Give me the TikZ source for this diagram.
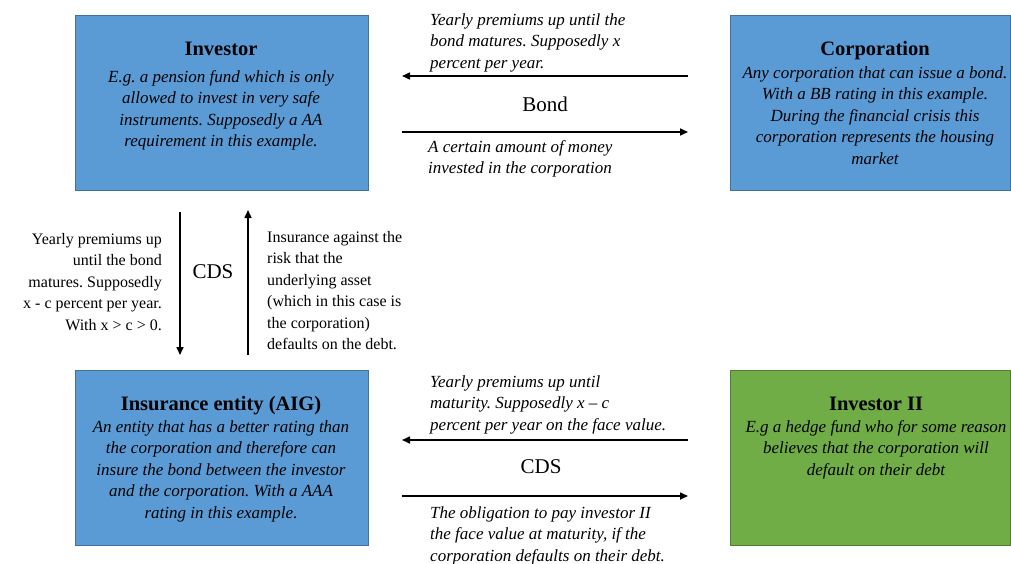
\documentclass[tikz,border=0pt]{standalone}
\usepackage{fontspec}
\setmainfont{Liberation Serif}
\usetikzlibrary{arrows.meta,calc}
\definecolor{boxblue}{HTML}{5B9BD5}
\definecolor{boxblueline}{HTML}{41719C}
\definecolor{boxgreen}{HTML}{70AD47}
\definecolor{boxgreenline}{HTML}{507E32}
\frenchspacing
\begin{document}
\begin{tikzpicture}[x=1pt,y=-1pt,
  box/.style={draw, line width=0.8pt, anchor=north west, inner sep=0},
  bluebox/.style={box, fill=boxblue, draw=boxblueline},
  greenbox/.style={box, fill=boxgreen, draw=boxgreenline},
  title/.style={font=\fontsize{20.5}{24}\selectfont\bfseries, anchor=base, inner sep=0},
  body/.style={font=\fontsize{17}{21.5}\selectfont\itshape, align=center, anchor=base, inner sep=0},
  note/.style={font=\fontsize{17}{21.5}\selectfont\itshape, align=left, anchor=base west, inner sep=0},
  plainr/.style={font=\fontsize{16}{21.5}\selectfont, align=right, anchor=base east, inner sep=0},
  plainl/.style={font=\fontsize{16}{21.5}\selectfont, align=left, anchor=base west, inner sep=0},
  big/.style={font=\fontsize{21}{24}\selectfont, inner sep=0},
  arr/.style={line width=1.6pt, -{Triangle[length=8pt,width=7pt]}},
]
\useasboundingbox (0,0) rectangle (1011,563);
\fill[white] (0,0) rectangle (1011,563);

% boxes
\node[bluebox, minimum width=293pt, minimum height=175pt] (inv) at (75,15) {};
\node[bluebox, minimum width=280pt, minimum height=175pt] (corp) at (730,15) {};
\node[bluebox, minimum width=293pt, minimum height=175pt] (ins) at (75,370) {};
\node[greenbox, minimum width=280pt, minimum height=175pt] (inv2) at (730,370) {};

% box texts (multi-line nodes: base = baseline of last line)
\node[title] (invT) at (221,55) {Investor};
\node[body] (invB) at (221,146.5) {E.g. a pension fund which is only\\ allowed to invest in very safe\\ instruments. Supposedly a AA\\ requirement in this example.};

\node[title] (corpT) at (875,55) {Corporation};
\node[body] (corpB) at (875,164) {Any corporation that can issue a bond.\\ With a BB rating in this example.\\ During the financial crisis this\\ corporation represents the housing\\ market};

\node[title] (insT) at (221,410) {Insurance entity (AIG)};
\node[body] (insB) at (221,518) {An entity that has a better rating than\\ the corporation and therefore can\\ insure the bond between the investor\\ and the corporation. With a AAA\\ rating in this example.};

\node[title] (inv2T) at (876,410) {Investor II};
\node[body] (inv2B) at (876,475) {E.g a hedge fund who for some reason\\ believes that the corporation will\\ default on their debt};

% connector end points
\coordinate (b1s) at (688,76);  \coordinate (b1e) at (402,76);
\coordinate (b2s) at (402,132); \coordinate (b2e) at (688,132);
\coordinate (c1s) at (688,440); \coordinate (c1e) at (402,440);
\coordinate (c2s) at (402,496); \coordinate (c2e) at (688,496);
\coordinate (v1s) at (180,212); \coordinate (v1e) at (180,355);
\coordinate (v2s) at (248,355); \coordinate (v2e) at (248,210);

\draw[arr] (b1s) -- (b1e);
\draw[arr] (b2s) -- (b2e);
\draw[arr] (c1s) -- (c1e);
\draw[arr] (c2s) -- (c2e);
\draw[arr] (v1s) -- (v1e);
\draw[arr] (v2s) -- (v2e);

% connector labels
\node[big] (bondL) at (545,104) {Bond};
\node[big] (cdsL) at (541,467) {CDS};
\node[big] (cdsV) at (213,272) {CDS};

\node[note] (n1) at (430,68) {Yearly premiums up until the\\ bond matures. Supposedly x\\ percent per year.};
\node[note] (n2) at (428,173.5) {A certain amount of money\\ invested in the corporation};
\node[note] (n3) at (430,430) {Yearly premiums up until\\ maturity. Supposedly x – c\\ percent per year on the face value.};
\node[note] (n4) at (430,561) {The obligation to pay investor II\\ the face value at maturity, if the\\ corporation defaults on their debt.};

\node[plainr] (n5) at (162,330) {Yearly premiums up\\ until the bond\\ matures. Supposedly\\ x - c percent per year.\\ With x > c > 0.};
\node[plainl] (n6) at (267,349.5) {Insurance against the\\ risk that the\\ underlying asset\\ (which in this case is\\ the corporation)\\ defaults on the debt.};
\end{tikzpicture}
\end{document}
